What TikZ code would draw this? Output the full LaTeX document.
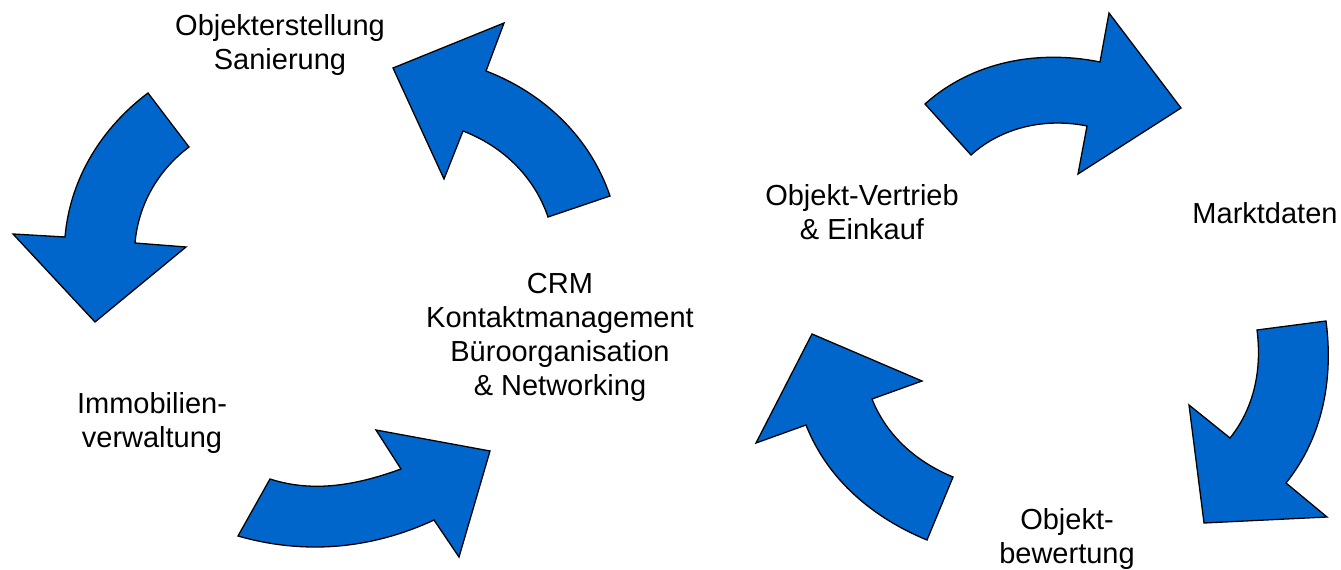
\documentclass[tikz,border=0pt]{standalone}
\usepackage{fontspec}
\setmainfont{Liberation Sans}
\definecolor{arrowblue}{RGB}{0,102,204}
\tikzset{
  bigarrow/.style={fill=arrowblue, draw=black, line width=1.3pt, line join=miter},
  lbl/.style={align=center, inner sep=0pt, font=\fontsize{29}{34}\selectfont},
  curv/.style={looseness=0.9}
}
\begin{document}
\begin{tikzpicture}[x=1pt,y=1pt]
\useasboundingbox (0,0) rectangle (1341,570);
% arrow 1 (left, pointing down)
\draw[bigarrow] (148,477) -- (189,423) to[curv,out=217,in=85] (135,327) -- (186,323) -- (95,248) -- (13,336) -- (65,333) to[curv,out=85,in=217] (148,477) -- cycle;
% arrow 2 (top centre, pointing up-left)
\draw[bigarrow] (610,374) -- (548,353) to[curv,out=108.7,in=-21] (463,439) -- (444,391) -- (393,502) -- (504,547) -- (486,499) to[curv,out=-21,in=108.7] (610,374) -- cycle;
% arrow 3 (bottom centre, pointing right)
\draw[bigarrow] (238,34) -- (270,91) to[curv,out=-18,in=200] (401,101) -- (376,140) -- (490,119) -- (459,13) -- (434,50) to[curv,out=205,in=-16] (238,34) -- cycle;
% arrow 4 (top right, pointing right)
\draw[bigarrow] (925,466) -- (971,415) to[curv,out=42,in=168.5] (1087,444) -- (1078,396) -- (1181,462) -- (1109,557) -- (1100,508) to[curv,out=168.5,in=42] (925,466) -- cycle;
% arrow 5 (right, pointing down)
\draw[bigarrow] (1326,249) -- (1257,240) to[curv,out=-82.6,in=51.2] (1230,132) -- (1189,165) -- (1204,47) -- (1327,53) -- (1286,87) to[curv,out=51.2,in=-82.6] (1326,249) -- cycle;
% arrow 6 (bottom right, pointing up-left)
\draw[bigarrow] (812,236) -- (922,189) -- (872,171) to[curv,out=291.5,in=157.6] (953,93) -- (927,30) to[curv,out=157.6,in=291.5] (806,145) -- (756,127) -- cycle;
% labels
\node[lbl] (objerst) at (280,525) {Objekterstellung\\Sanierung};
\node[lbl] (crm) at (560,233) {CRM\\Kontaktmanagement\\Büroorganisation\\\& Networking};
\node[lbl] (vertrieb) at (862,358) {Objekt-Vertrieb\\\& Einkauf};
\node[lbl] (markt) at (1265,357) {Marktdaten};
\node[lbl] (bewert) at (1067,31) {Objekt-\\bewertung};
\node[lbl] (immo) at (152,147) {Immobilien-\\verwaltung};
\end{tikzpicture}
\end{document}
